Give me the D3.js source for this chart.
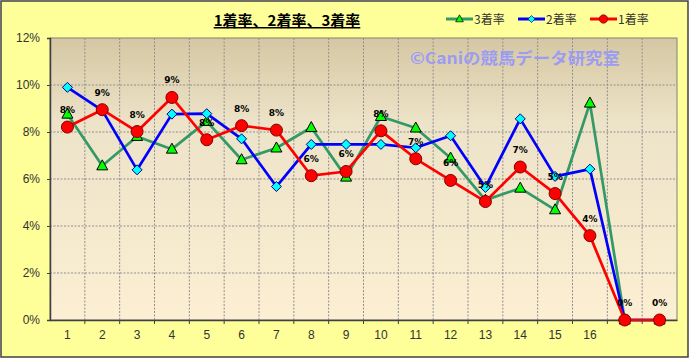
<!DOCTYPE html>
<html><head><meta charset="utf-8">
<script src="https://cdn.jsdelivr.net/npm/d3@7"></script>
<style>body{margin:0;background:#fff}svg{display:block}</style>
</head><body>
<svg id="c" width="690" height="359"></svg>
<script>
const categories = ["1","2","3","4","5","6","7","8","9","10","11","12","13","14","15","16","17","18"];
const tickLabels = ["1","2","3","4","5","6","7","8","9","10","11","12","13","14","15","16","",""];
const rate1 = [8.21,8.95,8.02,9.47,7.67,8.27,8.08,6.14,6.32,8.05,6.86,5.94,5.04,6.51,5.38,3.59,0,0];
const rate2 = [9.90,8.92,6.39,8.76,8.78,7.71,5.68,7.47,7.47,7.47,7.33,7.84,5.64,8.56,6.11,6.42,0,0];
const rate3 = [8.76,6.56,7.81,7.27,8.45,6.82,7.32,8.19,6.08,8.66,8.17,6.89,5.10,5.61,4.69,9.23,0,0];
const yTicks = [0,2,4,6,8,10,12];
const seriesNames = ["3着率","2着率","1着率"];

const svg = d3.select("#c");
const W = 690, H = 359;
const m = {l:50, r:13, t:38, b:39};
const pw = W - m.l - m.r, ph = H - m.t - m.b;

svg.append("rect").attr("x",1).attr("y",1).attr("width",W-3).attr("height",H-3)
  .attr("fill","#FFFF99").attr("stroke","#404040").attr("stroke-width",1.5);

const defs = svg.append("defs");
const grad = defs.append("linearGradient").attr("id","pg").attr("x1",0).attr("y1",0).attr("x2",0).attr("y2",1);
grad.append("stop").attr("offset","0%").attr("stop-color","#D5C7A2");
grad.append("stop").attr("offset","30%").attr("stop-color","#EDE3C8");
grad.append("stop").attr("offset","100%").attr("stop-color","#FCEFD3");

const g = svg.append("g").attr("transform",`translate(${m.l},${m.t})`);
g.append("rect").attr("width",pw).attr("height",ph).attr("fill","url(#pg)")
  .attr("stroke","#808080").attr("stroke-width",1);

const x = d3.scaleBand().domain(categories).range([0,pw]).padding(0);
const y = d3.scaleLinear().domain([0,12]).range([ph,0]);
const cx = d => x(d) + x.bandwidth()/2;

g.append("g").selectAll("line").data(yTicks.slice(1,-1)).join("line")
  .attr("x1",0).attr("x2",pw).attr("y1",d=>y(d)).attr("y2",d=>y(d))
  .attr("stroke","#8f8f8f").attr("stroke-dasharray","2,1.5").attr("stroke-width",1);
g.append("g").selectAll("line").data(categories.slice(1)).join("line")
  .attr("x1",d=>x(d)).attr("x2",d=>x(d)).attr("y1",0).attr("y2",ph)
  .attr("stroke","#8f8f8f").attr("stroke-dasharray","2,1.5").attr("stroke-width",1);

const yAxis = g.append("g").call(d3.axisLeft(y).tickValues(yTicks).tickFormat(d=>d+"%").tickSize(3).tickPadding(7));
yAxis.select(".domain").attr("stroke","#404040").attr("stroke-width",1.5);
yAxis.selectAll("line").attr("stroke","#404040");
yAxis.selectAll("text").attr("font-family","Liberation Sans, Arial, sans-serif").attr("font-size",12).attr("fill","#333");

const xAxis = g.append("g").attr("transform",`translate(0,${ph})`)
  .call(d3.axisBottom(x).tickFormat((d,i)=>tickLabels[i]).tickSize(0).tickPadding(10));
xAxis.select(".domain").attr("stroke","#404040").attr("stroke-width",1.5);
xAxis.selectAll("text").attr("font-family","Liberation Sans, Arial, sans-serif").attr("font-size",12).attr("fill","#333");
g.append("g").selectAll("line").data(categories.slice(1)).join("line")
  .attr("x1",d=>x(d)).attr("x2",d=>x(d)).attr("y1",ph).attr("y2",ph+4)
  .attr("stroke","#404040").attr("stroke-width",1);

g.append("text").attr("x",410-m.l).attr("y",64-m.t)
  .attr("font-family","Noto Sans CJK JP, sans-serif").attr("font-weight","bold")
  .attr("font-size",16).attr("fill","#9C9CF2").attr("textLength",210).attr("lengthAdjust","spacingAndGlyphs")
  .text("©Caniの競馬データ研究室");

const line = d3.line().x((d,i)=>cx(categories[i])).y(d=>y(d));
const series = [
  {name:"3着率", data:rate3, color:"#339966", marker:"tri"},
  {name:"2着率", data:rate2, color:"#0000FF", marker:"dia"},
  {name:"1着率", data:rate1, color:"#FF0000", marker:"circ"}
];
function marker(sel, type){
  if(type==="circ") sel.append("circle").attr("r",6).attr("fill","#FF0000").attr("stroke","#800000").attr("stroke-width",1);
  else if(type==="dia") sel.append("path").attr("d","M0,-5L5,0L0,5L-5,0Z").attr("fill","#00FFFF").attr("stroke","#000080").attr("stroke-width",1);
  else sel.append("path").attr("d","M0,-6L5.5,4L-5.5,4Z").attr("fill","#00FF00").attr("stroke","#000").attr("stroke-width",1);
}
series.forEach(s=>{
  g.append("path").datum(s.data).attr("d",line).attr("fill","none")
    .attr("stroke",s.color).attr("stroke-width",2.7).attr("stroke-linejoin","round");
});
series.forEach(s=>{
  s.data.forEach((v,i)=>{
    const mk = g.append("g").attr("transform",`translate(${cx(categories[i])},${y(v)})`);
    marker(mk, s.marker);
  });
});
g.append("g").selectAll("text").data(rate1).join("text")
  .attr("x",(d,i)=>cx(categories[i])).attr("y",d=>y(d)-14)
  .attr("text-anchor","middle").attr("font-family","DejaVu Sans, sans-serif").attr("font-weight","bold")
  .attr("font-size",9).attr("fill","#000").text(d=>Math.round(d)+"%");

svg.append("text").attr("x",287).attr("y",26).attr("text-anchor","middle")
  .attr("font-family","Noto Sans CJK JP, sans-serif").attr("font-weight","bold").attr("font-size",15)
  .attr("fill","#000").attr("text-decoration","underline").text("1着率、2着率、3着率");

const lx = [446,518,590];
series.forEach((s,i)=>{
  const lg = svg.append("g").attr("transform",`translate(${lx[i]},19)`);
  lg.append("line").attr("x1",0).attr("x2",27).attr("stroke",s.color).attr("stroke-width",3);
  const mk = lg.append("g").attr("transform","translate(13.5,0) scale(0.7)");
  marker(mk, s.marker);
  lg.append("text").attr("x",28).attr("y",5).attr("font-family","Noto Sans CJK JP, sans-serif")
    .attr("font-size",12).attr("fill","#333").text(s.name);
});
</script>
</body></html>
